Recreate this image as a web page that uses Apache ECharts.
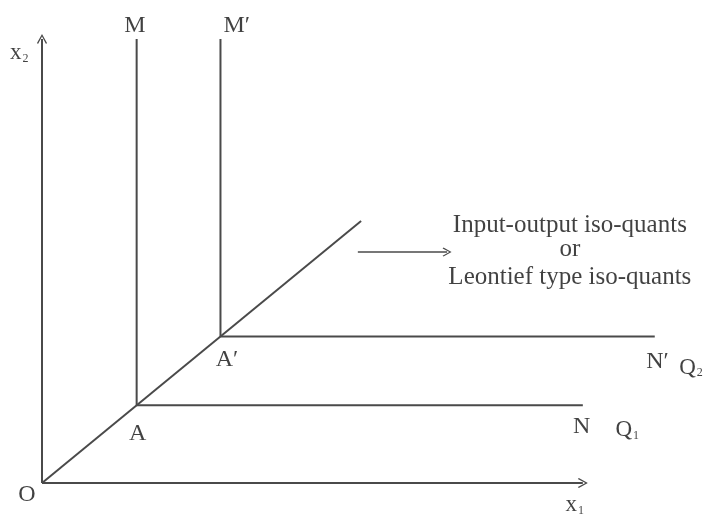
<!DOCTYPE html>
<html>
<head>
<meta charset="utf-8">
<script src="https://cdn.jsdelivr.net/npm/echarts@6/dist/echarts.min.js"></script>
<style>
  html, body { margin: 0; padding: 0; background: #fff; }
  #chart { width: 710px; height: 515px; }
</style>
</head>
<body>
<div id="chart"></div>
<script>
// iso-quant corners and arms (data units, origin at O)
const isoQ1 = [[1.75, 10], [1.75, 1.75], [10, 1.75]]
const isoQ2 = [[3.3, 10], [3.3, 3.3], [11.33, 3.3]]
const ray = [[0, 0], [5.9, 5.9]]
const axisX = [[0, 0], [10, 0]]
const axisY = [[0, 0], [0, 10]]
const pointer = [[5.84, 5.2], [7.49, 5.2]]

// point labels: [x, y, text]
const pointLabels = [
  [1.72, 10.3, 'M'],
  [3.6, 10.3, 'M′'],
  [1.77, 1.12, 'A'],
  [3.42, 2.77, 'A′'],
  [9.98, 1.26, 'N'],
  [11.38, 2.73, 'N′'],
  [-0.28, -0.26, 'O']
]
const subLabels = [
  [-0.42, 9.68, 'x', '2'],
  [9.85, -0.5, 'x', '1'],
  [10.82, 1.19, 'Q', '1'],
  [12.0, 2.6, 'Q', '2']
]
const noteLines = [
  [9.76, 5.81, 'Input-output iso-quants'],
  [9.76, 5.25, 'or'],
  [9.76, 4.64, 'Leontief type iso-quants']
]

const ink = '#4a4a4a'
const textInk = '#111'
const serif = '"Liberation Serif", "DejaVu Serif", serif'
const chevron = 'path://M5,0 L10,9 L9,10 L5,2.5 L1,10 L0,9 Z'

const lineStyle = { color: ink, width: 2 }

const arrowLine = (pts) => [{ coord: pts[0] }, { coord: pts[1] }]

const plainLine = (data) => ({
  type: 'line',
  data,
  symbol: 'none',
  lineStyle,
  silent: true,
  animation: false
})

const chart = echarts.init(document.getElementById('chart'))

chart.setOption({
  animation: false,
  grid: { left: 42, right: 19, top: 39, bottom: 32 },
  xAxis: {
    type: 'value', min: 0, max: 12,
    axisLine: { show: false }, axisTick: { show: false },
    axisLabel: { show: false }, splitLine: { show: false }
  },
  yAxis: {
    type: 'value', min: 0, max: 10,
    axisLine: { show: false }, axisTick: { show: false },
    axisLabel: { show: false }, splitLine: { show: false }
  },
  series: [
    plainLine(isoQ1),
    plainLine(isoQ2),
    plainLine(ray),
    {
      type: 'line',
      data: [],
      markLine: {
        silent: true,
        animation: false,
        symbol: ['none', chevron],
        symbolSize: [10, 10],
        label: { show: false },
        lineStyle: { type: 'solid', color: ink, width: 2 },
        data: [arrowLine(axisX), arrowLine(axisY)]
      }
    },
    {
      type: 'line',
      data: [],
      markLine: {
        silent: true,
        animation: false,
        symbol: ['none', chevron],
        symbolSize: [9, 9],
        label: { show: false },
        lineStyle: { type: 'solid', color: ink, width: 1.5 },
        data: [arrowLine(pointer)]
      }
    },
    {
      type: 'scatter',
      clip: false,
      symbolSize: 0,
      silent: true,
      data: pointLabels.map(d => ({ value: [d[0], d[1]], name: d[2] })),
      label: {
        show: true, position: 'inside',
        formatter: p => p.name,
        fontFamily: serif, fontSize: 24, color: textInk
      }
    },
    {
      type: 'scatter',
      clip: false,
      symbolSize: 0,
      silent: true,
      data: subLabels.map(d => ({ value: [d[0], d[1]], name: '{b|' + d[2] + '}{s|' + d[3] + '}' })),
      label: {
        show: true, position: 'inside',
        formatter: p => p.name,
        rich: {
          b: { fontFamily: serif, fontSize: 23, color: textInk, lineHeight: 24 },
          s: { fontFamily: serif, fontSize: 12, color: textInk, lineHeight: 24, padding: [11, 0, 0, 1] }
        }
      }
    },
    {
      type: 'scatter',
      clip: false,
      symbolSize: 0,
      silent: true,
      data: noteLines.map(d => ({ value: [d[0], d[1]], name: d[2] })),
      label: {
        show: true, position: 'inside',
        formatter: p => p.name,
        fontFamily: serif, fontSize: 25, color: textInk
      }
    }
  ]
})
</script>
</body>
</html>
